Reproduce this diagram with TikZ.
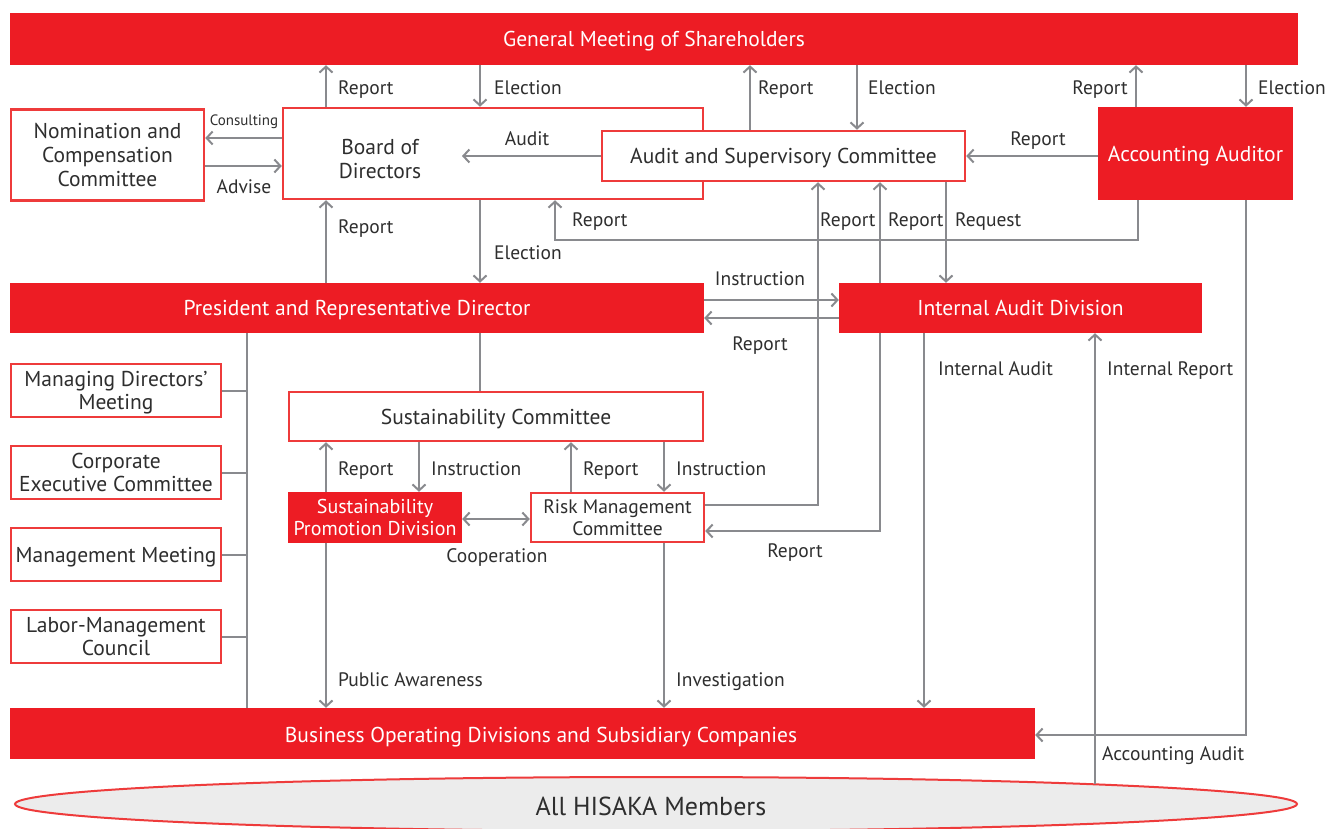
\documentclass[tikz,border=0pt]{standalone}
\usepackage{fontspec}
\setmainfont{PT Sans}
\usetikzlibrary{arrows.meta,shapes.geometric}
\definecolor{cred}{HTML}{ED1C24}
\definecolor{cedge}{HTML}{EE3B3B}
\definecolor{cgray}{HTML}{898A8E}
\definecolor{ctext}{HTML}{2E2E2E}
\definecolor{cfill}{HTML}{ECECEC}
\begin{document}
\begin{tikzpicture}[x=1pt,y=-1pt,
  redbox/.style={fill=cred,draw=none,text=white,align=center,inner sep=0,text depth=0pt,
    font=\fontsize{21.5}{24}\selectfont},
  whitebox/.style={fill=white,draw=cedge,line width=2.5pt,text=ctext,align=center,inner sep=0,
    text depth=0pt,font=\fontsize{21.5}{24}\selectfont},
  boxtext/.style={text=ctext,align=center,inner sep=0,text depth=0pt,font=\fontsize{21.5}{24}\selectfont},
  tight/.style={font=\fontsize{21.5}{22.5}\selectfont},
  lbl/.style={text=ctext,inner sep=0,text height=13pt,text depth=0pt,anchor=west,
    font=\fontsize{19.5}{22}\selectfont},
  smalllbl/.style={lbl,anchor=center,font=\fontsize{15}{17}\selectfont},
  arr/.style={draw=cgray,line width=2pt,-{Straight Barb[length=6pt,width=13pt,line width=2pt]}},
  dblarr/.style={draw=cgray,line width=2pt,{Straight Barb[length=6pt,width=13pt,line width=2pt]}-{Straight Barb[length=6pt,width=13pt,line width=2pt]}},
  link/.style={draw=cgray,line width=2pt},
]
\useasboundingbox (0,0) rectangle (1328,829);

% ---- boxes ----
\node[redbox,minimum width=1288pt,minimum height=52pt] (gm) at (654,39) {General Meeting of Shareholders};
\node[whitebox,minimum width=193pt,minimum height=91pt] (nom) at (107.5,155) {Nomination and\\Compensation\\Committee};
\node[whitebox,minimum width=420pt,minimum height=91pt] (bod) at (493,153.5) {};
\node[boxtext] (bodtext) at (380,159) {Board of\\Directors};
\node[whitebox,minimum width=363pt,minimum height=50pt] (asc) at (783.5,156) {Audit and Supervisory Committee};
\node[redbox,minimum width=195pt,minimum height=93pt] (aa) at (1195.5,153.5) {Accounting Auditor};
\node[redbox,minimum width=694pt,minimum height=50pt] (pres) at (357,308) {President and Representative Director};
\node[redbox,minimum width=363pt,minimum height=50pt] (iad) at (1020.5,308) {Internal Audit Division};
\node[whitebox,tight,minimum width=210pt,minimum height=53pt] (mdm) at (116,390.5) {Managing Directors'\\Meeting};
\node[whitebox,tight,minimum width=210pt,minimum height=53pt] (cec) at (116,472.5) {Corporate\\Executive Committee};
\node[whitebox,tight,minimum width=210pt,minimum height=53pt] (mm) at (116,554.5) {Management Meeting};
\node[whitebox,tight,minimum width=210pt,minimum height=53pt] (lmc) at (116,636.5) {Labor-Management\\Council};
\node[whitebox,minimum width=414pt,minimum height=49pt] (sc) at (496,416.5) {Sustainability Committee};
\node[redbox,font=\fontsize{20}{22}\selectfont,minimum width=174pt,minimum height=51pt] (spd) at (375,517.5) {Sustainability\\Promotion Division};
\node[whitebox,font=\fontsize{19.5}{22}\selectfont,minimum width=173pt,minimum height=49pt] (rmc) at (617.5,517.5) {Risk Management\\Committee};
\node[redbox,minimum width=1025pt,minimum height=51pt] (bus) at (522.5,733.5) {};
\node[text=white,inner sep=0,text depth=0pt,font=\fontsize{21.5}{24}\selectfont] (bustext) at (541,735) {Business Operating Divisions and Subsidiary Companies};
\node[ellipse,fill=cfill,draw=cedge,line width=2pt,minimum width=1282pt,minimum height=54pt,inner sep=0] (all) at (656,804) {};
\node[text=ctext,inner sep=0,text depth=0pt,font=\fontsize{26}{28}\selectfont] (alltext) at (651,806) {All HISAKA Members};
\coordinate (irfoot) at (1095,784);

% ---- shareholders links ----
\draw[arr] (326,0 |- bod.north) -- (326,0 |- gm.south);
\node[lbl] (l1) at (338,88) {Report};
\draw[arr] (480,0 |- gm.south) -- (480,0 |- bod.north);
\node[lbl] (l2) at (494,88) {Election};
\draw[arr] (750,0 |- asc.north) -- (750,0 |- gm.south);
\node[lbl] (l3) at (758,88) {Report};
\draw[arr] (857,0 |- gm.south) -- (857,0 |- asc.north);
\node[lbl] (l4) at (868,88) {Election};
\draw[arr] (1136,0 |- aa.north) -- (1136,0 |- gm.south);
\node[lbl,anchor=east] (l5) at (1128,88) {Report};
\draw[arr] (1246,0 |- gm.south) -- (1246,0 |- aa.north);
\node[lbl] (l6) at (1258,88) {Election};

% ---- board level ----
\draw[arr] (bod.west |- 0,138) -- (nom.east |- 0,138);
\node[smalllbl] (l7) at (244,119) {Consulting};
\draw[arr] (nom.east |- 0,166) -- (bod.west |- 0,166);
\node[lbl,anchor=center] (l8) at (244,187) {Advise};
\draw[arr] (asc.west) -- (462,0 |- asc.west);
\node[lbl,anchor=center] (l9) at (527,139) {Audit};
\draw[arr] (aa.west |- asc.east) -- (asc.east);
\node[lbl,anchor=center] (l10) at (1038,139) {Report};
\draw[arr] (1138,0 |- aa.south) -- (1138,240) -- (555,240) -- (555,0 |- bod.south);
\node[lbl] (l11) at (572,220) {Report};
\draw[arr] (rmc.east |- 0,505) -- (818,505) -- (818,0 |- asc.south);
\node[lbl] (l12) at (820,220) {Report};
\draw[arr] (880,0 |- iad.north) -- (880,0 |- asc.south);
\node[lbl] (l13) at (888,220) {Report};
\draw[arr] (946,0 |- asc.south) -- (946,0 |- iad.north);
\node[lbl] (l14) at (955,220) {Request};
\draw[arr] (326,0 |- pres.north) -- (326,0 |- bod.south);
\node[lbl] (l15) at (338,227) {Report};
\draw[arr] (480,0 |- bod.south) -- (480,0 |- pres.north);
\node[lbl] (l16) at (494,253) {Election};

% ---- executive level ----
\draw[arr] (pres.east |- 0,300) -- (iad.west |- 0,300);
\node[lbl,anchor=center] (l17) at (760,279) {Instruction};
\draw[arr] (iad.west |- 0,318) -- (pres.east |- 0,318);
\node[lbl,anchor=center] (l18) at (760,344) {Report};
\draw[arr] (880,0 |- iad.south) -- (880,531) -- (rmc.east |- 0,531);
\node[lbl,anchor=center] (l19) at (795,551) {Report};
\draw[arr] (924,0 |- iad.south) -- (924,0 |- bus.north);
\node[lbl] (l20) at (938,369) {Internal Audit};
\draw[arr] (irfoot) -- (1095,0 |- iad.south);
\node[lbl] (l21) at (1107,369) {Internal Report};
\draw[arr] (1246,0 |- aa.south) -- (1246,735) -- (bus.east |- 0,735);
\node[lbl] (l22) at (1102,754) {Accounting Audit};

% ---- meetings column ----
\draw[link] (247,0 |- pres.south) -- (247,0 |- bus.north);
\foreach \b in {mdm,cec,mm,lmc} \draw[link] (\b.east) -- (247,0 |- \b.east);

% ---- sustainability ----
\draw[link] (480,0 |- pres.south) -- (480,0 |- sc.north);
\draw[arr] (326,0 |- spd.north) -- (326,0 |- sc.south);
\node[lbl] (l23) at (338,469) {Report};
\draw[arr] (419,0 |- sc.south) -- (419,0 |- spd.north);
\node[lbl] (l24) at (431,469) {Instruction};
\draw[arr] (571,0 |- rmc.north) -- (571,0 |- sc.south);
\node[lbl] (l25) at (583,469) {Report};
\draw[arr] (664,0 |- sc.south) -- (664,0 |- rmc.north);
\node[lbl] (l26) at (676,469) {Instruction};
\draw[dblarr] (spd.east |- 0,519) -- (rmc.west |- 0,519);
\node[lbl,anchor=center] (l27) at (497,556) {Cooperation};
\draw[arr] (326,0 |- spd.south) -- (326,0 |- bus.north);
\node[lbl] (l28) at (338,680) {Public Awareness};
\draw[arr] (664,0 |- rmc.south) -- (664,0 |- bus.north);
\node[lbl] (l29) at (676,680) {Investigation};
\end{tikzpicture}
\end{document}
